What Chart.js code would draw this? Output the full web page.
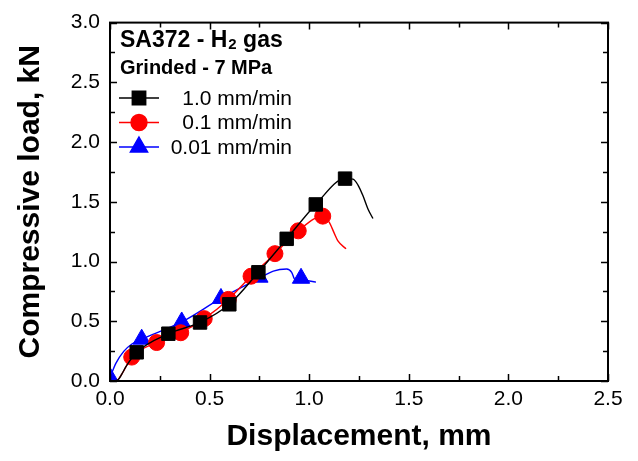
<!DOCTYPE html>
<html>
<head>
<meta charset="utf-8">
<script src="https://cdn.jsdelivr.net/npm/chart.js@4.4.0/dist/chart.umd.min.js"></script>
<style>
  html, body { margin: 0; padding: 0; background: #fff; }
</style>
</head>
<body>
<canvas id="grafico" width="638" height="461"></canvas>
<script>
// tick labels
const xTicks = [0.0, 0.5, 1.0, 1.5, 2.0, 2.5];
const yTicks = [0.0, 0.5, 1.0, 1.5, 2.0, 2.5, 3.0];

// 1.0 mm/min - full curve and marker points
const fastX = [0, 0.04, 0.06, 0.08, 0.134, 0.293, 0.452, 0.599, 0.745, 0.887, 1.033, 1.18, 1.22, 1.245, 1.27, 1.295, 1.32];
const fastY = [0, 0.01, 0.06, 0.12, 0.24, 0.396, 0.49, 0.642, 0.91, 1.19, 1.478, 1.694, 1.69, 1.64, 1.55, 1.44, 1.36];
const fastMarkX = [0.134, 0.293, 0.452, 0.599, 0.745, 0.887, 1.033, 1.18];
const fastMarkY = [0.24, 0.396, 0.49, 0.642, 0.91, 1.19, 1.478, 1.694];

// 0.1 mm/min
const midX = [0, 0.03, 0.06, 0.109, 0.234, 0.355, 0.473, 0.594, 0.708, 0.828, 0.945, 1.068, 1.1, 1.125, 1.145, 1.185];
const midY = [0, 0.0, 0.06, 0.2, 0.322, 0.404, 0.522, 0.683, 0.877, 1.066, 1.257, 1.38, 1.33, 1.24, 1.17, 1.107];
const midMarkX = [0.109, 0.234, 0.355, 0.473, 0.594, 0.708, 0.828, 0.945, 1.068];
const midMarkY = [0.2, 0.322, 0.404, 0.522, 0.683, 0.877, 1.066, 1.257, 1.38];

// 0.01 mm/min
const slowX = [0, 0.03, 0.07, 0.11, 0.159, 0.36, 0.557, 0.75, 0.82, 0.887, 0.912, 0.929, 0.959, 1.034];
const slowY = [0.03, 0.15, 0.25, 0.31, 0.35, 0.494, 0.691, 0.86, 0.92, 0.937, 0.91, 0.847, 0.845, 0.828];
const slowMarkX = [0, 0.159, 0.36, 0.557, 0.75, 0.959];
const slowMarkY = [0.03, 0.35, 0.494, 0.691, 0.869, 0.86];

const legendLabels = ["1.0 mm/min", "0.1 mm/min", "0.01 mm/min"];

const pts = (xs, ys) => xs.map((x, i) => ({ x: x, y: ys[i] }));

const fonte = "'Liberation Sans', Arial, sans-serif";

const series = [
  { cor: "#000000", estilo: "rect", raio: 9.5, curva: pts(fastX, fastY), marcas: pts(fastMarkX, fastMarkY) },
  { cor: "#ff0000", estilo: "circle", raio: 8, curva: pts(midX, midY), marcas: pts(midMarkX, midMarkY) },
  { cor: "#0000ff", estilo: "triangle", raio: 10, curva: pts(slowX, slowY), marcas: pts(slowMarkX, slowMarkY) }
];

const datasets = [];
series.forEach(s => {
  datasets.push({
    data: s.curva, showLine: true, borderColor: s.cor, borderWidth: 1.4,
    pointRadius: 0, cubicInterpolationMode: "monotone", fill: false
  });
  datasets.push({
    data: s.marcas, showLine: false, pointStyle: s.estilo, pointRadius: s.raio,
    backgroundColor: s.cor, borderColor: s.cor, borderWidth: 1
  });
});

// frame with inside ticks on all four sides
const molduraPlugin = {
  id: "moldura",
  afterDatasetsDraw(chart) {
    const ctx = chart.ctx;
    const a = chart.chartArea;
    const sx = chart.scales.x, sy = chart.scales.y;
    ctx.save();
    ctx.strokeStyle = "#000";
    ctx.lineWidth = 1.5;
    ctx.beginPath();
    for (let v = 0; v <= 2.5001; v += 0.25) {
      const p = Math.round(sx.getPixelForValue(v)) + 0.5;
      const len = Math.abs(v / 0.5 - Math.round(v / 0.5)) < 0.01 ? 7 : 5;
      ctx.moveTo(p, a.bottom); ctx.lineTo(p, a.bottom - len);
      ctx.moveTo(p, a.top); ctx.lineTo(p, a.top + len);
    }
    for (let v = 0; v <= 3.0001; v += 0.25) {
      const p = Math.round(sy.getPixelForValue(v)) + 0.5;
      const len = Math.abs(v / 0.5 - Math.round(v / 0.5)) < 0.01 ? 7 : 5;
      ctx.moveTo(a.left, p); ctx.lineTo(a.left + len, p);
      ctx.moveTo(a.right, p); ctx.lineTo(a.right - len, p);
    }
    ctx.stroke();
    ctx.lineWidth = 2;
    ctx.strokeRect(a.left, a.top, a.right - a.left, a.bottom - a.top);
    ctx.restore();
  },
  afterDraw(chart) {
    const ctx = chart.ctx;
    ctx.save();
    ctx.fillStyle = "#000";
    ctx.textBaseline = "alphabetic";
    ctx.textAlign = "left";
    // title inside the plot
    ctx.font = "bold 23px " + fonte;
    let x = 120;
    ctx.fillText("SA372 - H", x, 47);
    x += ctx.measureText("SA372 - H").width;
    ctx.font = "bold 15px " + fonte;
    ctx.fillText("2", x + 1, 49);
    x += ctx.measureText("2").width + 1;
    ctx.font = "bold 23px " + fonte;
    ctx.fillText(" gas", x, 47);
    ctx.font = "bold 20px " + fonte;
    ctx.fillText("Grinded - 7 MPa", 120, 74);

    // legend rows
    const linhas = [98, 122.5, 147];
    series.forEach((s, i) => {
      const y = linhas[i];
      ctx.strokeStyle = s.cor;
      ctx.lineWidth = 1.4;
      ctx.beginPath();
      ctx.moveTo(119, y); ctx.lineTo(159, y);
      ctx.stroke();
      ctx.fillStyle = s.cor;
      Chart.helpers.drawPoint(ctx, { pointStyle: s.estilo, radius: s.raio, rotation: 0, borderWidth: 1 }, 139, y);
      ctx.fillStyle = "#000";
      ctx.font = "21px " + fonte;
      ctx.textAlign = "right";
      ctx.textBaseline = "middle";
      ctx.fillText(legendLabels[i], 292, y + 1);
      ctx.textAlign = "left";
      ctx.textBaseline = "alphabetic";
    });
    ctx.restore();
  }
};

new Chart(document.getElementById("grafico"), {
  type: "scatter",
  data: { datasets: datasets },
  options: {
    responsive: false,
    animation: false,
    devicePixelRatio: 1,
    layout: { padding: { top: 15, right: 30, left: 0, bottom: 0 } },
    plugins: { legend: { display: false }, tooltip: { enabled: false } },
    scales: {
      x: {
        type: "linear", min: 0, max: 2.5,
        afterBuildTicks: s => { s.ticks = xTicks.map(v => ({ value: v })); },
        afterFit: s => { s.height = 80; },
        grid: { display: false, drawTicks: false },
        border: { display: false },
        ticks: { color: "#000", font: { family: fonte, size: 21 }, padding: 6, maxRotation: 0, callback: v => v.toFixed(1) },
        title: { display: true, text: "Displacement, mm", color: "#000", font: { family: fonte, size: 30, weight: "bold" }, padding: { top: 0, bottom: 6 } }
      },
      y: {
        type: "linear", min: 0, max: 3,
        afterBuildTicks: s => { s.ticks = yTicks.map(v => ({ value: v })); },
        afterFit: s => { s.width = 110; },
        grid: { display: false, drawTicks: false },
        border: { display: false },
        ticks: { color: "#000", font: { family: fonte, size: 21 }, padding: 10, callback: v => v.toFixed(1) },
        title: { display: true, text: "Compressive load, kN", color: "#000", font: { family: fonte, size: 30, weight: "bold" }, padding: { top: 13, bottom: 0 } }
      }
    }
  },
  plugins: [molduraPlugin]
});
</script>
</body>
</html>
